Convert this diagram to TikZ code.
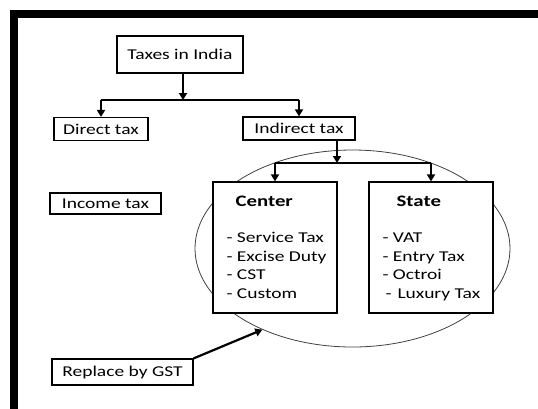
\documentclass[tikz,border=0pt]{standalone}
\usepackage{fontspec}
\setmainfont{Carlito}[FakeStretch=1.3]
\usetikzlibrary{arrows.meta,shapes.geometric}

\begin{document}
\begin{tikzpicture}[x=1pt,y=-1pt,
    box/.style={draw,fill=white,line width=1.2pt,inner sep=0pt,font=\fontsize{15}{18}\selectfont},
    item/.style={anchor=base west,inner sep=0pt,font=\fontsize{15}{18}\selectfont},
    title/.style={anchor=base west,inner sep=0pt,font=\fontsize{16}{19}\selectfont\bfseries},
    arr/.style={line width=2.2pt,-{Triangle[width=8pt,length=7pt]}},
    link/.style={line width=1.4pt}]
    \useasboundingbox (0,0) rectangle (538,408);
    \clip (0,0) rectangle (538,408);
    \draw[line width=8pt] (14,14) rectangle (600,480);

    % the indirect taxes that GST replaces
    \node[ellipse,draw=black!75,line width=0.8pt,minimum width=315pt,minimum height=197pt] (indirectset) at (352.5,248.5) {};

    \node[box,minimum width=126pt,minimum height=37pt] (taxes) at (180,54.5) {Taxes in India};
    \node[box,minimum width=94pt,minimum height=23pt] (direct) at (101,129) {Direct tax};
    \node[box,minimum width=112pt,minimum height=23pt] (indirect) at (299,128.5) {Indirect tax};
    \node[box,minimum width=111pt,minimum height=21pt] (income) at (105.5,203.5) {Income tax};
    \node[box,minimum width=141pt,minimum height=26pt] (gst) at (122.5,372) {Replace by GST};

    \node[box,minimum width=124pt,minimum height=131pt] (centerbox) at (275,247.5) {};
    \node[box,minimum width=124pt,minimum height=131pt] (statebox) at (431,247.5) {};

    \node[title] (centertitle) at ([shift={(23,25)}]centerbox.north west) {Center};
    \node[title] (statetitle) at ([shift={(28,25)}]statebox.north west) {State};
    \foreach \t [count=\i] in {Service Tax, Excise Duty, CST, Custom}
        \node[item] (center\i) at ([shift={(14,{61+18.7*(\i-1)})}]centerbox.north west) {- \t};
    \foreach \t [count=\i] in {- VAT, - Entry Tax, - Octroi, \hspace{3pt}-\hspace{6pt}Luxury Tax}
        \node[item] (state\i) at ([shift={(14,{61+18.7*(\i-1)})}]statebox.north west) {\t};

    % arrows
    \coordinate (split1) at (183,100);
    \draw[arr] (taxes.south -| split1) -- (split1);
    \draw[link] (direct.north |- split1) -- (indirect.north |- split1);
    \draw[arr] (direct.north |- split1) -- (direct.north);
    \draw[arr] (indirect.north |- split1) -- (indirect.north);

    \coordinate (split2) at (337,163);
    \draw[arr] (indirect.south -| split2) -- (split2);
    \draw[link] (centerbox.north |- split2) -- (statebox.north |- split2);
    \draw[arr] (centerbox.north |- split2) -- (centerbox.north);
    \draw[arr] (statebox.north |- split2) -- (statebox.north);

    \draw[arr] (gst.north east) -- (indirectset.222);
\end{tikzpicture}
\end{document}
